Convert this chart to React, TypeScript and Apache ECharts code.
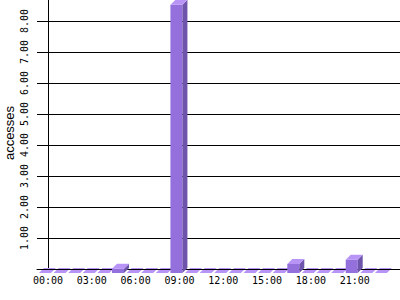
import React, { useEffect, useRef } from "react";
import * as echarts from "echarts";

const hours: number[] = Array.from({ length: 24 }, (_, i) => i);
const accesses: number[] = [
  0, 0, 0, 0, 0, 0.14, 0, 0, 0, 8.65, 0, 0,
  0, 0, 0, 0, 0, 0.29, 0, 0, 0, 0.43, 0, 0,
];
const hourLabels: string[] = ["00:00", "03:00", "06:00", "09:00", "12:00", "15:00", "18:00", "21:00"];
const labelHours: number[] = [0, 3, 6, 9, 12, 15, 18, 21];
const yTicks: number[] = [0, 1, 2, 3, 4, 5, 6, 7, 8, 9];
const yTitle = "accesses";

const FRONT = "#9470dc";
const SIDE = "#6f54ac";
const TOP = "#b794f6";

function makeRender(wantZero: boolean) {
  return (params: any, api: any) => {
    const h = api.value(0);
    const v = api.value(1);
    if ((v === 0) !== wantZero) return null;
    const base = api.coord([h, 0]);
    const top = api.coord([h, v]);
    const cx = base[0];
    const x0 = cx - 9;
    const x1 = cx + 3;
    const yb = base[1] + 4;
    const yt = top[1] + 4;
    const d = 5;
    return {
      type: "group",
      children: [
        {
          type: "polygon",
          shape: { points: [[x0, yt], [x1, yt], [x1, yb], [x0, yb]] },
          style: { fill: FRONT },
        },
        {
          type: "polygon",
          shape: { points: [[x1, yt], [x1 + d, yt - d], [x1 + d, yb - d], [x1, yb]] },
          style: { fill: SIDE },
        },
        {
          type: "polygon",
          shape: { points: [[x0, yt], [x0 + d, yt - d], [x1 + d, yt - d], [x1, yt]] },
          style: { fill: TOP },
        },
      ],
    };
  };
}

export default function App() {
  const ref = useRef<HTMLDivElement>(null);
  useEffect(() => {
    if (!ref.current) return;
    const chart = echarts.init(ref.current, undefined, { renderer: "svg" });
    const data = hours.map((h, i) => [h, accesses[i]]);
    chart.setOption({
      animation: false,
      backgroundColor: "#ffffff",
      grid: { left: 37, right: 0, top: -10, bottom: 31, containLabel: false, outerBoundsMode: "none" },
      graphic: [
        {
          type: "text",
          x: 9,
          y: 133,
          rotation: Math.PI / 2,
          style: {
            text: yTitle,
            fontFamily: "Liberation Sans",
            fontSize: 13,
            fill: "#000",
            align: "center",
            verticalAlign: "middle",
          },
        },
      ],
      xAxis: {
        type: "value",
        min: -0.75,
        max: 24.1,
        z: 1.5,
        axisLine: { show: true, onZero: false, lineStyle: { color: "#000", width: 1 } },
        axisTick: { show: false },
        splitLine: { show: false },
        axisLabel: {
          customValues: labelHours,
          formatter: (val: number) => hourLabels[labelHours.indexOf(Math.round(val))] ?? "",
          fontFamily: "DejaVu Sans Mono",
          fontSize: 10,
          color: "#000",
          margin: 6,
        },
      },
      yAxis: {
        type: "value",
        min: yTicks[0],
        max: yTicks[yTicks.length - 1],
        interval: 1,
        axisLine: { show: true, lineStyle: { color: "#000", width: 1 } },
        axisTick: { show: false },
        splitLine: { show: true, lineStyle: { color: "#000", width: 1 } },
        axisLabel: {
          rotate: 90,
          showMinLabel: false,
          showMaxLabel: false,
          formatter: (val: number) => val.toFixed(2),
          fontFamily: "DejaVu Sans Mono",
          fontSize: 10,
          color: "#000",
          margin: 8,
        },
      },
      series: [
        { type: "custom", z: 1, renderItem: makeRender(true), data, clip: false },
        { type: "custom", z: 2, renderItem: makeRender(false), data, clip: false },
      ],
    });
    return () => chart.dispose();
  }, []);
  return <div ref={ref} style={{ width: 400, height: 300, position: "absolute", left: 0, top: 0 }} />;
}
